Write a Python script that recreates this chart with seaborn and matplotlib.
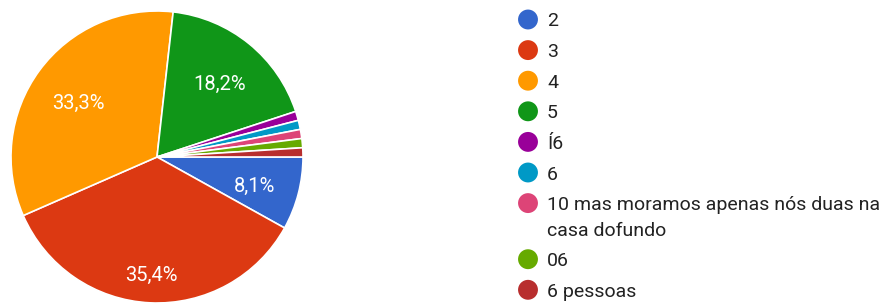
import matplotlib
matplotlib.use("Agg")
import numpy as np
import matplotlib.pyplot as plt
import seaborn as sns

categories = ["2", "3", "4", "5", "Í6", "6",
              "10 mas moramos apenas nós duas na\ncasa dofundo", "06", "6 pessoas"]
counts = [8, 35, 33, 18, 1, 1, 1, 1, 1]
colors = ["#3366cc", "#dc3912", "#ff9900", "#109618", "#990099",
          "#0099c6", "#dd4477", "#66aa00", "#b82e2e"]

sns.set_theme(style="white")
plt.rcParams["font.family"] = ["Roboto", "DejaVu Sans"]

W, H = 881, 304
fig = plt.figure(figsize=(W / 100, H / 100), dpi=100)
ax = fig.add_axes([11 / W, 1 / H, 292 / W, 292 / H])

def fmt(p):
    return (f"{p:.1f}%".replace(".", ",")) if p > 5 else ""

wedges, texts, autotexts = ax.pie(
    counts, colors=sns.color_palette(colors), startangle=0, counterclock=False,
    autopct=fmt, pctdistance=0.70,
    wedgeprops=dict(edgecolor="white", linewidth=1.2),
    textprops=dict(color="white", fontsize=14.5),
)
# label radii (Google-style placement)
label_r = [0.69, 0.78, 0.67, 0.68]
for w, t, r in zip(wedges, autotexts, label_r):
    mid = np.deg2rad((w.theta1 + w.theta2) / 2)
    t.set_position((r * np.cos(mid), r * np.sin(mid) - 0.03))
ax.set_aspect("equal")
ax.set_xlim(-1, 1)
ax.set_ylim(-1, 1)
ax.axis("off")

# legend drawn in its own pixel-scaled axes
lax = fig.add_axes([500 / W, 0, 381 / W, 1])
lax.set_xlim(500, W)
lax.set_ylim(H, 0)
lax.axis("off")
y = 19.5
for cat, c in zip(categories, colors):
    lax.scatter([528], [y], s=205, color=c, edgecolors="none")
    lax.text(547, y, cat, fontsize=14, color="#222222", va="center_baseline",
             ha="left", linespacing=1.32) if "\n" not in cat else None
    if "\n" in cat:
        lines = cat.split("\n")
        for k, ln in enumerate(lines):
            lax.text(547, y + k * 25.5, ln, fontsize=14, color="#222222",
                     va="center_baseline", ha="left")
        y += 25.5 * (len(lines) - 1)
    y += 30.6

fig.savefig("out.png", dpi=100)
